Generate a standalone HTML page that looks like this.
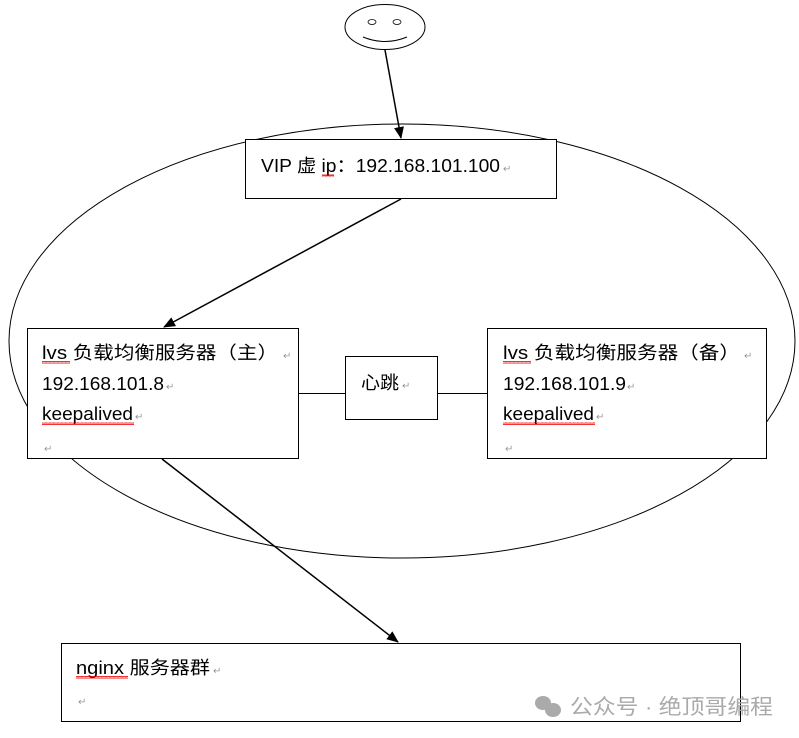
<!DOCTYPE html>
<html><head><meta charset="utf-8"><style>
html,body{margin:0;padding:0;background:#fff;}
svg{display:block;}
text{font-family:"Liberation Sans","Noto Sans CJK SC",sans-serif;font-size:18px;fill:#000;}
.m{font-size:10px;fill:#999;}
</style></head><body>
<svg width="799" height="738" viewBox="0 0 799 738" xmlns="http://www.w3.org/2000/svg">
<defs>
<marker id="ah" markerWidth="12" markerHeight="10" refX="11" refY="5" orient="auto" markerUnits="userSpaceOnUse">
<path d="M0,0 L12,5 L0,10 z" fill="#000"/>
</marker>
<pattern id="wv" width="4" height="3" patternUnits="userSpaceOnUse"><path d="M0,2.5 L1,0.5 L2,2.5 L3,0.5 L4,2.5" stroke="#e00" stroke-width="0.8" fill="none"/></pattern>
</defs>
<ellipse cx="402" cy="341" rx="393" ry="217" fill="none" stroke="#000" stroke-width="1"/>
<ellipse cx="385" cy="27" rx="40" ry="22.5" fill="#fff" stroke="#000" stroke-width="1"/>
<ellipse cx="372" cy="22" rx="4" ry="2.5" fill="#fff" stroke="#000" stroke-width="0.8"/>
<ellipse cx="397" cy="22" rx="4" ry="2.5" fill="#fff" stroke="#000" stroke-width="0.8"/>
<path d="M363,37 Q385,46 407,37" fill="none" stroke="#000" stroke-width="1"/>
<rect x="245.5" y="139.5" width="311" height="59" fill="#fff" stroke="#000"/>
<rect x="27.5" y="328.5" width="271" height="130" fill="#fff" stroke="#000"/>
<rect x="345.5" y="356.5" width="92" height="63" fill="#fff" stroke="#000"/>
<rect x="487.5" y="328.5" width="279" height="130" fill="#fff" stroke="#000"/>
<rect x="61.5" y="643.5" width="679" height="78" fill="#fff" stroke="#000"/>
<line x1="298" y1="393.5" x2="345" y2="393.5" stroke="#000"/>
<line x1="437" y1="393.5" x2="487" y2="393.5" stroke="#000"/>
<line x1="385" y1="50" x2="401" y2="138" stroke="#000" stroke-width="1.5" marker-end="url(#ah)"/>
<line x1="401" y1="199" x2="164" y2="327" stroke="#000" stroke-width="1.5" marker-end="url(#ah)"/>
<line x1="162" y1="459" x2="398" y2="642" stroke="#000" stroke-width="1.5" marker-end="url(#ah)"/>

<text x="261" y="172" textLength="239" lengthAdjust="spacingAndGlyphs">VIP 虚 ip：192.168.101.100</text><text class="m" x="503" y="172">↵</text>
<rect x="322" y="174" width="12" height="3" fill="url(#wv)"/>

<text x="42" y="359" textLength="236" lengthAdjust="spacingAndGlyphs">lvs 负载均衡服务器（主）</text><text class="m" x="283" y="359">↵</text>
<rect x="42" y="361" width="28" height="3" fill="url(#wv)"/>
<text x="42" y="390" textLength="122" lengthAdjust="spacingAndGlyphs">192.168.101.8</text><text class="m" x="166" y="390">↵</text>
<text x="42" y="420" textLength="91" lengthAdjust="spacingAndGlyphs">keepalived</text><text class="m" x="135" y="420">↵</text>
<rect x="42" y="422" width="92" height="3" fill="url(#wv)"/>
<text class="m" x="44" y="452">↵</text>

<text x="361" y="389" textLength="38" lengthAdjust="spacingAndGlyphs">心跳</text><text class="m" x="402" y="389">↵</text>

<text x="503" y="359" textLength="237" lengthAdjust="spacingAndGlyphs">lvs 负载均衡服务器（备）</text><text class="m" x="744" y="359">↵</text>
<rect x="503" y="361" width="28" height="3" fill="url(#wv)"/>
<text x="503" y="390" textLength="123" lengthAdjust="spacingAndGlyphs">192.168.101.9</text><text class="m" x="627" y="390">↵</text>
<text x="503" y="420" textLength="91" lengthAdjust="spacingAndGlyphs">keepalived</text><text class="m" x="596" y="420">↵</text>
<rect x="503" y="422" width="92" height="3" fill="url(#wv)"/>
<text class="m" x="505" y="452">↵</text>

<text x="76" y="674" textLength="134" lengthAdjust="spacingAndGlyphs">nginx 服务器群</text><text class="m" x="213" y="674">↵</text>
<rect x="76" y="676" width="52" height="3" fill="url(#wv)"/>
<text class="m" x="78" y="705">↵</text>

<g fill="#aaa">
<ellipse cx="543" cy="703" rx="8" ry="7"/>
<ellipse cx="553" cy="710" rx="8" ry="7"/>
</g>
<text x="570" y="714" textLength="203" lengthAdjust="spacingAndGlyphs" style="font-size:21px;fill:#aaa;">公众号 · 绝顶哥编程</text>
</svg>
</body></html>
